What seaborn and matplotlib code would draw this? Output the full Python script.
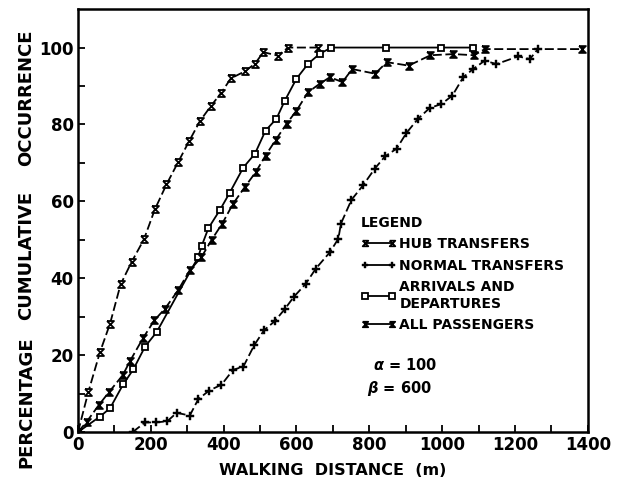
import numpy as np
import pandas as pd
import seaborn as sns
import matplotlib
matplotlib.use("Agg")
import matplotlib.pyplot as plt
from matplotlib.path import Path
from matplotlib.lines import Line2D

# Walking distance (m) and cumulative percentage for each passenger group
hub_dist = [0, 28, 60, 88, 117, 147, 181, 211, 243, 275, 306, 335, 365, 393, 420,
            458, 486, 509, 549, 577, 659]
hub_pct = [0, 10.3, 20.7, 28.2, 38.4, 44.2, 50.1, 57.9, 64.4, 70.2, 75.8, 80.9, 84.8,
           88.2, 92.0, 93.8, 95.8, 98.8, 97.9, 100, 100]

normal_dist = [150, 184, 213, 245, 271, 307, 330, 360, 394, 426, 454, 484, 511, 540,
               568, 593, 625, 653, 692, 715, 722, 751, 783, 815, 843, 875, 902, 934,
               966, 998, 1028, 1058, 1085, 1117, 1149, 1209, 1241, 1262]
normal_pct = [0, 2.5, 2.5, 2.8, 5.0, 4.3, 8.5, 10.8, 12.3, 16.2, 17.0, 22.6, 26.5, 28.8,
              32.0, 35.2, 38.5, 42.5, 46.8, 50.3, 54.2, 60.4, 64.2, 68.5, 71.7, 73.7,
              77.8, 81.5, 84.3, 85.3, 87.5, 92.3, 94.4, 96.6, 95.7, 97.7, 97.0, 99.5]

arrdep_dist = [0, 60, 88, 124, 152, 184, 216, 330, 340, 358, 390, 417, 454, 486, 515,
               545, 568, 600, 632, 664, 696, 845, 996, 1085]
arrdep_pct = [0, 4.0, 6.2, 12.4, 16.3, 22.2, 26.0, 45.5, 48.5, 53.0, 57.8, 62.3, 68.8,
              72.4, 78.4, 81.5, 86.2, 91.9, 95.8, 98.4, 100, 100, 100, 100]

all_dist = [0, 24, 57, 86, 123, 143, 179, 210, 239, 275, 307, 339, 367, 396, 426, 458,
            488, 515, 543, 573, 600, 632, 664, 692, 726, 753, 816, 848, 908, 968, 1031,
            1088, 1117, 1385]
all_pct = [0, 2.7, 7.0, 10.5, 14.8, 18.5, 24.5, 29.1, 32.1, 36.9, 42.1, 45.5, 50.0,
           54.2, 59.4, 63.7, 67.6, 71.9, 76.0, 80.2, 83.6, 88.4, 90.6, 92.3, 91.0, 94.4,
           93.2, 96.2, 95.3, 98.0, 98.3, 98.0, 99.6, 99.6]

x_ticks = [0, 200, 400, 600, 800, 1000, 1200, 1400]
y_ticks = [0, 20, 40, 60, 80, 100]

# Hourglass-shaped marker (an "x" closed by bars top and bottom)
hourglass = Path([(-1, 1), (1, 1), (-1, -1), (1, -1), (-1, 1)],
                 [Path.MOVETO, Path.LINETO, Path.LINETO, Path.LINETO, Path.LINETO])

sns.set_theme(style="white")
plt.rcParams["font.family"] = ["DejaVu Sans"]
plt.rcParams["font.weight"] = "bold"
plt.rcParams["text.color"] = "black"
plt.rcParams["axes.labelcolor"] = "black"
plt.rcParams["xtick.color"] = "black"
plt.rcParams["ytick.color"] = "black"

fig = plt.figure(figsize=(6.24, 4.79), dpi=100)
ax = fig.add_axes([0.125, 0.098, 0.817, 0.883])

series = [
    ("HUB TRANSFERS", hub_dist, hub_pct,
     dict(marker=hourglass, markersize=5, markerfacecolor="white",
          markeredgecolor="black", markeredgewidth=1.3, linestyle=(0, (5, 2)))),
    ("NORMAL TRANSFERS", normal_dist, normal_pct,
     dict(marker="P", markersize=6, markerfacecolor="black",
          markeredgecolor="black", markeredgewidth=0.3, linestyle=(0, (5, 2)))),
    ("ARRIVALS AND\nDEPARTURES", arrdep_dist, arrdep_pct,
     dict(marker="s", markersize=5, markerfacecolor="white",
          markeredgecolor="black", markeredgewidth=1.3, linestyle="-")),
    ("ALL PASSENGERS", all_dist, all_pct,
     dict(marker=hourglass, markersize=5, markerfacecolor="black",
          markeredgecolor="black", markeredgewidth=1.2, linestyle=(0, (5, 2)))),
]

handles = []
for name, xs, ys, style in series:
    df = pd.DataFrame({"dist": xs, "pct": ys})
    sns.lineplot(data=df, x="dist", y="pct", ax=ax, color="black", linewidth=1.3,
                 sort=False, estimator=None, legend=False, **style)
    leg_style = dict(style)
    leg_style["linestyle"] = "-"
    leg_style["markersize"] = 4
    handles.append(Line2D([], [], color="black", linewidth=1.3, label=name, **leg_style))

ax.set_xlim(0, 1400)
ax.set_ylim(0, 110)
ax.set_xticks(x_ticks)
ax.set_yticks(y_ticks)
ax.set_xticks(np.arange(100, 1400, 200), minor=True)
ax.set_yticks(np.arange(10, 110, 20), minor=True)
ax.set_xticklabels([str(v) for v in x_ticks], fontsize=12, fontweight="bold")
ax.set_yticklabels([str(v) for v in y_ticks], fontsize=12, fontweight="bold")
ax.tick_params(which="both", direction="in", length=5, width=1.3, colors="black",
               bottom=True, left=True, top=False, right=False)
ax.tick_params(axis="x", pad=3)
ax.tick_params(axis="y", pad=3)
for sp in ax.spines.values():
    sp.set_visible(True)
    sp.set_color("black")
    sp.set_linewidth(1.8)

ax.set_xlabel("WALKING  DISTANCE  (m)", fontsize=11.5, fontweight="bold", labelpad=6)
ax.set_ylabel("")

# Vertical axis title in three spaced words
for word, ypix in [("PERCENTAGE", 402), ("CUMULATIVE", 255), ("OCCURRENCE", 98)]:
    fig.text(26 / 624, 1 - ypix / 479, word, rotation=90, ha="center", va="center",
             fontsize=13, fontweight="bold")

leg = ax.legend(handles=handles, title="LEGEND", loc="upper left",
                bbox_to_anchor=(0.543, 0.525), frameon=False, handlelength=2.6,
                numpoints=2, handletextpad=0.2, labelspacing=0.55, borderaxespad=0,
                alignment="left", prop=dict(size=10, weight="bold"),
                title_fontproperties=dict(size=10, weight="bold"))

ax.text(0.578, 0.158, r"$\alpha$ = 100", transform=ax.transAxes, fontsize=10.5,
        fontweight="bold", ha="left", va="center")
ax.text(0.566, 0.103, r"$\beta$ = 600", transform=ax.transAxes, fontsize=10.5,
        fontweight="bold", ha="left", va="center")

fig.savefig("out.png", dpi=100, facecolor="white")
